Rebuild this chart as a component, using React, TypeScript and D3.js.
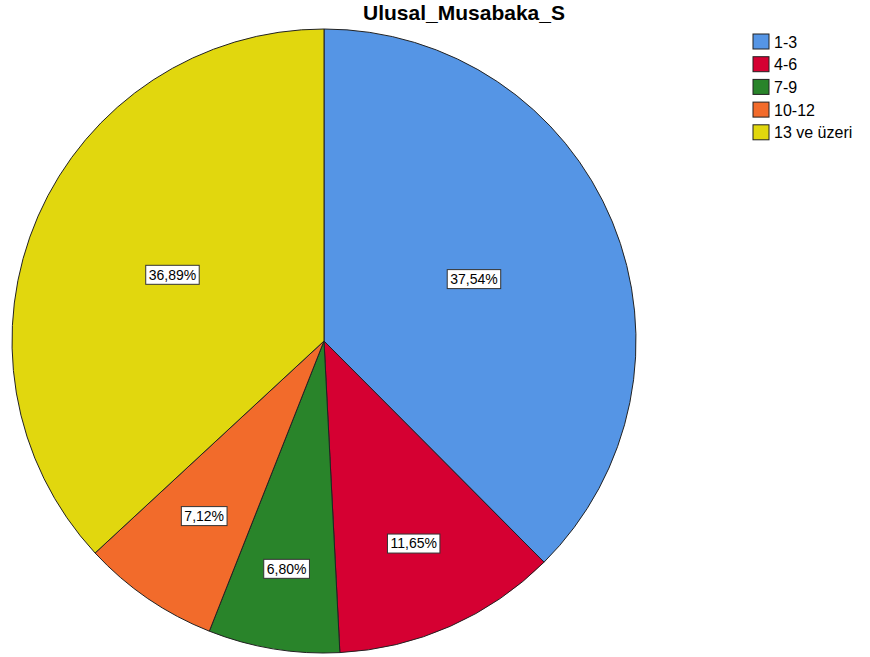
import React, { useEffect, useRef } from 'react'
import * as d3 from 'd3';

const width = 870;
const height = 657;

const title = "Ulusal_Musabaka_S";
const categories = ["1-3", "4-6", "7-9", "10-12", "13 ve üzeri"];
const percents = [37.54, 11.65, 6.80, 7.12, 36.89];
const colors = ["#5595e5", "#d50032", "#29842a", "#f26b2b", "#e1d70e"];

const cx = 324;
const cy = 341;
const radius = 312;
// how far out each label box sits, as a share of the radius
const labelFrac = [0.52, 0.71, 0.74, 0.68, 0.53];

export default function App() {
  const ref = useRef<SVGSVGElement>(null);

  useEffect(() => {
    const svg = d3.select(ref.current);
    svg.selectAll("*").remove();

    svg.append("text")
      .attr("x", 464)
      .attr("y", 20)
      .attr("text-anchor", "middle")
      .style("font-family", "Liberation Sans, Arial, sans-serif")
      .style("font-weight", "bold")
      .style("font-size", "21px")
      .attr("fill", "#000")
      .text(title);

    const pie = d3.pie<number>().sort(null).value((d) => d);
    const arcs = pie(percents);
    const arc = d3.arc<d3.PieArcDatum<number>>().innerRadius(0).outerRadius(radius);

    const g = svg.append("g").attr("transform", "translate(" + cx + "," + cy + ")");

    g.selectAll("path")
      .data(arcs)
      .enter()
      .append("path")
      .attr("d", arc)
      .attr("fill", (_, i) => colors[i])
      .attr("stroke", "#222")
      .attr("stroke-width", 1);

    const labels = g.selectAll("g.lbl")
      .data(arcs)
      .enter()
      .append("g")
      .attr("class", "lbl")
      .attr("transform", (d, i) => {
        const mid = (d.startAngle + d.endAngle) / 2;
        const dist = radius * labelFrac[i];
        return "translate(" + dist * Math.sin(mid) + "," + (-dist * Math.cos(mid)) + ")";
      });

    labels.each(function (d) {
      const sel = d3.select(this);
      const txt = d.data.toFixed(2).replace(".", ",") + "%";
      const t = sel.append("text")
        .attr("text-anchor", "middle")
        .attr("dy", "0.35em")
        .style("font-family", "Liberation Sans, Arial, sans-serif")
        .style("font-size", "14px")
        .attr("fill", "#000")
        .text(txt);
      const bb = (t.node() as SVGTextElement).getBBox();
      sel.insert("rect", "text")
        .attr("x", bb.x - 3)
        .attr("y", -9.5)
        .attr("width", bb.width + 6)
        .attr("height", 19)
        .attr("fill", "#fff")
        .attr("stroke", "#333")
        .attr("stroke-width", 1);
    });

    const legend = svg.append("g").attr("transform", "translate(753,34)");
    const rows = legend.selectAll("g")
      .data(categories)
      .enter()
      .append("g")
      .attr("transform", (_, i) => "translate(0," + i * 22.7 + ")");
    rows.append("rect")
      .attr("width", 16)
      .attr("height", 15)
      .attr("fill", (_, i) => colors[i])
      .attr("stroke", "#222")
      .attr("stroke-width", 1);
    rows.append("text")
      .attr("x", 21)
      .attr("y", 13.5)
      .style("font-family", "Liberation Sans, Arial, sans-serif")
      .style("font-size", "16px")
      .attr("fill", "#000")
      .text((d) => d);
  }, []);

  return (
    <svg ref={ref} width={width} height={height}
      style={{ position: "absolute", left: 0, top: 0, background: "#fff" }} />
  );
}
